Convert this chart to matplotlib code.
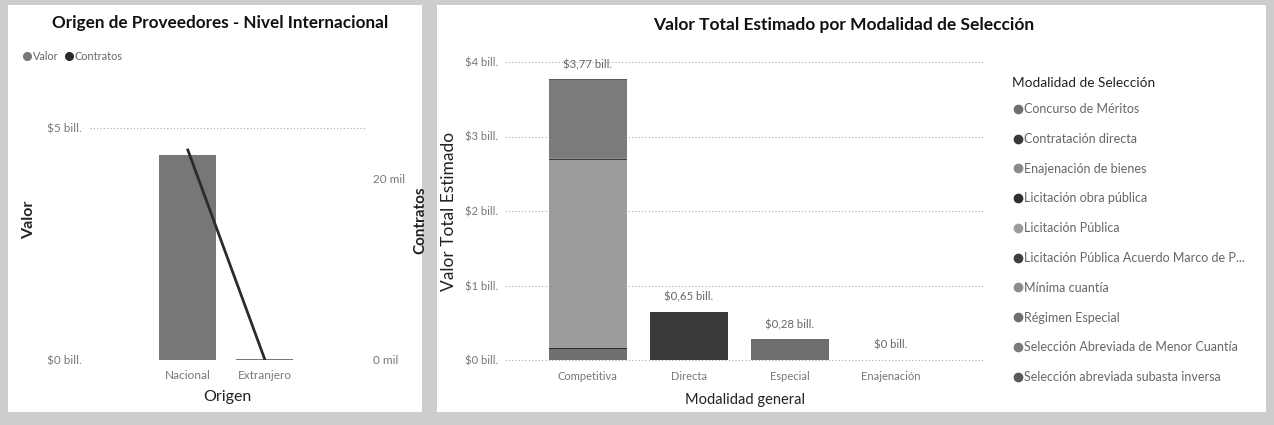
import numpy as np
import matplotlib.pyplot as plt
from matplotlib.patches import Rectangle
from matplotlib.lines import Line2D

plt.rcParams['font.family'] = ['Lato', 'DejaVu Sans']

# left chart data
origen = ['Nacional', 'Extranjero']
valor_bill = [4.42, 0.02]
contratos_mil = [23.1, 0.05]

# right chart data
modalidad_general = ['Competitiva', 'Directa', 'Especial', 'Enajenación']
modalidades = ['Concurso de Méritos', 'Contratación directa', 'Enajenación de bienes',
               'Licitación obra pública', 'Licitación Pública',
               'Licitación Pública Acuerdo Marco de P...', 'Mínima cuantía',
               'Régimen Especial', 'Selección Abreviada de Menor Cuantía',
               'Selección abreviada subasta inversa']
# values (bill.) per modalidad for each modalidad general
valores = {
    'Concurso de Méritos':                     [0.15, 0, 0, 0],
    'Contratación directa':                    [0, 0.65, 0, 0],
    'Enajenación de bienes':                   [0, 0, 0, 0.002],
    'Licitación obra pública':                 [0.01, 0, 0, 0],
    'Licitación Pública':                      [2.52, 0, 0, 0],
    'Licitación Pública Acuerdo Marco de P...': [0.02, 0, 0, 0],
    'Mínima cuantía':                          [0.01, 0, 0, 0],
    'Régimen Especial':                        [0, 0, 0.28, 0],
    'Selección Abreviada de Menor Cuantía':    [1.05, 0, 0, 0],
    'Selección abreviada subasta inversa':     [0.01, 0, 0, 0],
}
colores = ['#707070', '#3a3a3a', '#8a8a8a', '#2e2e2e', '#9c9c9c',
           '#404040', '#8c8c8c', '#6e6e6e', '#7b7b7b', '#5a5a5a']

fig = plt.figure(figsize=(12.74, 4.25), dpi=100, facecolor='#cdcdcd')
W, H = 1274, 425


def px_rect(x0, y0, x1, y1):
    return [x0 / W, 1 - y1 / H, (x1 - x0) / W, (y1 - y0) / H]


# white panels
for x0, x1 in [(8, 422), (437, 1266)]:
    r = px_rect(x0, 5, x1, 412)
    fig.patches.append(Rectangle((r[0], r[1]), r[2], r[3], transform=fig.transFigure,
                                 facecolor='white', edgecolor='none', zorder=-5))

tick_col = '#777777'
grid_kw = dict(color='#aaaaaa', linestyle=(0, (1, 2)), linewidth=0.8)

# ---------- left chart ----------
ax1 = fig.add_axes(px_rect(90, 80, 365, 360))
x = np.arange(len(origen))
ax1.bar(x, valor_bill, width=0.74, color='#777777', edgecolor='none', zorder=2)
ax1.set_xlim(-1.27, 2.30)
ax1.set_ylim(0, 6.03)
ax1.set_yticks([0, 5])
ax1.set_yticklabels(['$0 bill.', '$5 bill.'])
ax1.set_xticks(x)
ax1.set_xticklabels(origen)
for yv in [0, 5]:
    ax1.axhline(yv, zorder=1, **grid_kw)
ax2 = ax1.twinx()
ax2.plot(x, contratos_mil, color='#2b2b2b', linewidth=2, zorder=3)
ax2.set_ylim(0, 30.8)
ax2.set_yticks([0, 20])
ax2.set_yticklabels(['0 mil', '20 mil'])
for a in (ax1, ax2):
    for s in a.spines.values():
        s.set_visible(False)
    a.tick_params(length=0, labelsize=8.5, colors=tick_col, pad=6)
ax1.tick_params(axis='x', pad=7)
ax1.set_ylabel('Valor', fontsize=11.5, fontweight='bold', color='#222222', labelpad=8)
ax2.set_ylabel('Contratos', fontsize=11, fontweight='bold', color='#222222', labelpad=6)
ax1.set_xlabel('Origen', fontsize=11.5, color='#222222', labelpad=7)
fig.text(220 / W, 1 - 23 / H, 'Origen de Proveedores - Nivel Internacional', ha='center',
         va='center', fontsize=12.3, fontweight='bold', color='#111111')
leg1 = fig.legend(handles=[Line2D([], [], marker='o', linestyle='', color='#777777', markersize=5.5),
                           Line2D([], [], marker='o', linestyle='', color='#2b2b2b', markersize=5.5)],
                  labels=['Valor', 'Contratos'], loc='center left',
                  bbox_to_anchor=(12 / W, 1 - 56 / H), ncol=2, frameon=False, fontsize=7.8,
                  handletextpad=0.0, columnspacing=0.5, handlelength=1.0, labelcolor='#666666')

# ---------- right chart ----------
ax3 = fig.add_axes(px_rect(505, 62, 985, 360))
xc = np.arange(len(modalidad_general))
bottom = np.zeros(len(modalidad_general))
for m, c in zip(modalidades, colores):
    v = np.array(valores[m])
    ax3.bar(xc, v, bottom=bottom, width=0.77, color=c, edgecolor='none', zorder=2)
    bottom += v
totales = bottom
for xi, t in zip(xc, totales):
    lbl = f'${t:.2f} bill.'.replace('.', ',', 1) if t >= 0.01 else '$0 bill.'
    ax3.text(xi, t + 0.12, lbl, ha='center', va='bottom', fontsize=8.2, color='#666666')
ax3.set_xlim(-0.82, 3.93)
ax3.set_ylim(0, 4)
ax3.set_yticks([0, 1, 2, 3, 4])
ax3.set_yticklabels(['$0 bill.', '$1 bill.', '$2 bill.', '$3 bill.', '$4 bill.'])
ax3.set_xticks(xc)
ax3.set_xticklabels(modalidad_general)
for yv in [0, 1, 2, 3, 4]:
    ax3.axhline(yv, zorder=1, clip_on=False, **grid_kw)
for s in ax3.spines.values():
    s.set_visible(False)
ax3.tick_params(length=0, labelsize=8, colors=tick_col, pad=5)
ax3.tick_params(axis='x', pad=8)
ax3.set_ylabel('Valor Total Estimado', fontsize=12.5, color='#222222', labelpad=6)
ax3.set_xlabel('Modalidad general', fontsize=10.5, color='#222222', labelpad=8)
fig.text(844 / W, 1 - 25 / H, 'Valor Total Estimado por Modalidad de Selección', ha='center',
         va='center', fontsize=12.5, fontweight='bold', color='#111111')

fig.text(1012 / W, 1 - 83 / H, 'Modalidad de Selección', ha='left', va='center',
         fontsize=9.8, color='#222222')
handles = [Line2D([], [], marker='o', linestyle='', color=c, markersize=6) for c in colores]
leg = fig.legend(handles=handles, labels=modalidades, loc='upper left',
                 bbox_to_anchor=(1000 / W, 1 - 92 / H), frameon=False, fontsize=9,
                 handletextpad=0.0, handlelength=1.0, labelspacing=1.42, labelcolor='#666666')

fig.savefig('out.png', dpi=100, facecolor=fig.get_facecolor())
